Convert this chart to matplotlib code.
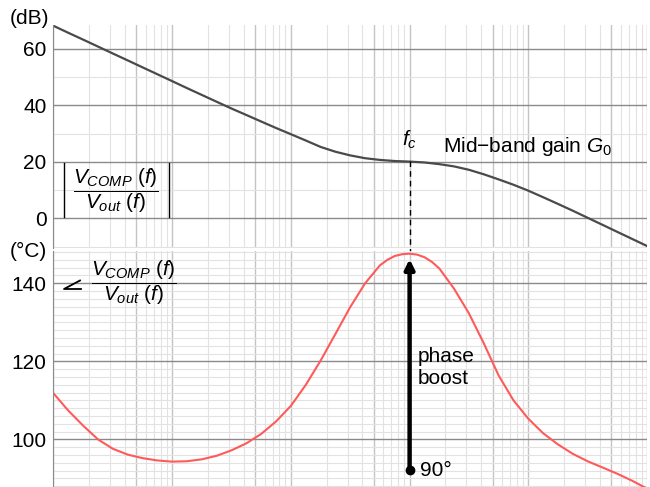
import matplotlib
matplotlib.use("Agg")
import matplotlib.pyplot as plt
from matplotlib.lines import Line2D
from matplotlib.ticker import LogLocator, MultipleLocator, NullFormatter

plt.rcParams['font.family'] = ['Liberation Sans', 'DejaVu Sans']
plt.rcParams['mathtext.fontset'] = 'custom'
plt.rcParams['mathtext.rm'] = 'Liberation Sans'
plt.rcParams['mathtext.it'] = 'Liberation Sans:italic'
plt.rcParams['font.size'] = 15

# frequency samples (Hz), 8 per decade, a few more around the peak
freq = [10, 13.3, 17.8, 23.7, 31.6, 42.2, 56.2, 75.0,
        100, 133, 178, 237, 316, 422, 562, 750,
        1000, 1330, 1780, 2370, 3160, 4220, 5620, 6490, 7500, 8660,
        10000, 11550, 13300, 15400, 17800, 23700, 31600, 42200, 56200, 75000,
        100000, 133000, 178000, 237000, 316000, 422000, 562000, 750000,
        1000000]

# |Vcomp/Vout| in dB
gain_db = [68.2, 65.75, 63.3, 60.85, 58.4, 55.95, 53.5, 51.05,
           48.6, 46.15, 43.7, 41.3, 38.9, 36.6, 34.3, 32.0,
           29.8, 27.6, 25.3, 23.6, 22.3, 21.3, 20.7, 20.5, 20.3, 20.2,
           20.1, 19.95, 19.8, 19.5, 19.2, 18.4, 17.2, 15.6, 13.8, 11.9,
           9.8, 7.5, 5.1, 2.7, 0.2, -2.3, -4.8, -7.3,
           -9.8]

# phase of Vcomp/Vout in degrees
phase_deg = [111.8, 107.4, 103.5, 100.0, 97.6, 96.1, 95.2, 94.6,
             94.3, 94.4, 94.9, 95.8, 97.2, 99.0, 101.4, 104.6,
             108.6, 113.9, 120.2, 127.0, 133.9, 140.0, 144.6, 146.0, 147.0, 147.45,
             147.6, 147.35, 146.7, 145.5, 143.8, 138.6, 132.3, 124.6, 116.4, 110.0,
             105.3, 101.6, 98.7, 96.3, 94.4, 92.8, 91.2, 89.4,
             87.4]

fc = 10000
phase_base = 92.1
phase_top = 146.2

fig = plt.figure(figsize=(6.5, 4.87), dpi=100)
ax1 = fig.add_axes([0.0823, 0.4908, 0.9131, 0.4579])
ax2 = fig.add_axes([0.0823, 0.0, 0.9131, 0.484])


def style_axes(ax, major, minor):
    ax.set_xscale('log')
    ax.set_xlim(10, 1e6)
    ax.xaxis.set_major_locator(LogLocator(base=10, subs=(1.0, 5.0)))
    ax.xaxis.set_minor_locator(LogLocator(base=10, subs=(2, 3, 4, 6, 7, 8, 9)))
    ax.xaxis.set_minor_formatter(NullFormatter())
    ax.yaxis.set_major_locator(MultipleLocator(major))
    ax.yaxis.set_minor_locator(MultipleLocator(minor))
    ax.tick_params(which='both', length=0, labelbottom=False, pad=5)
    ax.grid(which='major', axis='y', color='#8a8a8a', lw=1.0)
    ax.grid(which='major', axis='x', color='#c4c4c4', lw=1.0)
    ax.grid(which='minor', color='#e2e2e2', lw=0.8)
    ax.set_axisbelow(True)
    for s in ['top', 'right', 'bottom']:
        ax.spines[s].set_visible(False)
    ax.spines['left'].set_color('#8a8a8a')


style_axes(ax1, 20, 10)
ax1.set_ylim(-10.5, 68.5)
ax1.plot(freq, gain_db, color='#4a4a4a', lw=1.6)
ax1.axvline(fc, ymin=-0.025, ymax=0.405, color='black', lw=1, ls=(0, (4, 3)),
            clip_on=False)
ax1.text(fc, 27.8, '$f_c$', ha='center', va='center')
ax1.text(19200, 25.3, 'Mid\u2212band gain $G_0$', ha='left', va='center')

style_axes(ax2, 20, 2)
ax2.set_ylim(87.8, 148.2)
ax2.plot(freq, phase_deg, color='#ff5a5a', lw=1.5)
ax2.annotate('', xy=(fc, phase_top), xytext=(fc, phase_base),
             arrowprops=dict(arrowstyle='-|>', lw=3.2, color='black',
                             mutation_scale=14, shrinkA=0, shrinkB=0))
ax2.plot(fc, phase_base, 'o', color='black', ms=6)
ax2.text(11800, 118.3, 'phase\nboost', ha='left', va='center')
ax2.text(12300, phase_base, '90\u00b0', ha='left', va='center')

W, H = 650, 487
fig.text(10 / W, 1 - 18 / H, '(dB)', ha='left', va='center')
fig.text(10 / W, 1 - 251 / H, '(\u00b0C)', ha='left', va='center')

# magnitude label with thin bars
fig.text(116 / W, 1 - 191 / H, r'$\dfrac{V_{COMP}\ (f)}{V_{out}\ (f)}$',
         ha='center', va='center')
for bx in (63.5, 168.5):
    fig.add_artist(Line2D([bx / W, bx / W], [1 - 163 / H, 1 - 217 / H],
                          color='black', lw=1.0, transform=fig.transFigure))

# phase label: thin angle sign + fraction
fig.add_artist(Line2D([80 / W, 64 / W, 81 / W],
                      [1 - 280.5 / H, 1 - 289 / H, 1 - 289 / H],
                      color='black', lw=1.3, transform=fig.transFigure))
fig.text(134 / W, 1 - 283 / H, r'$\dfrac{V_{COMP}\ (f)}{V_{out}\ (f)}$',
         ha='center', va='center')

fig.savefig('out.png', dpi=100)
